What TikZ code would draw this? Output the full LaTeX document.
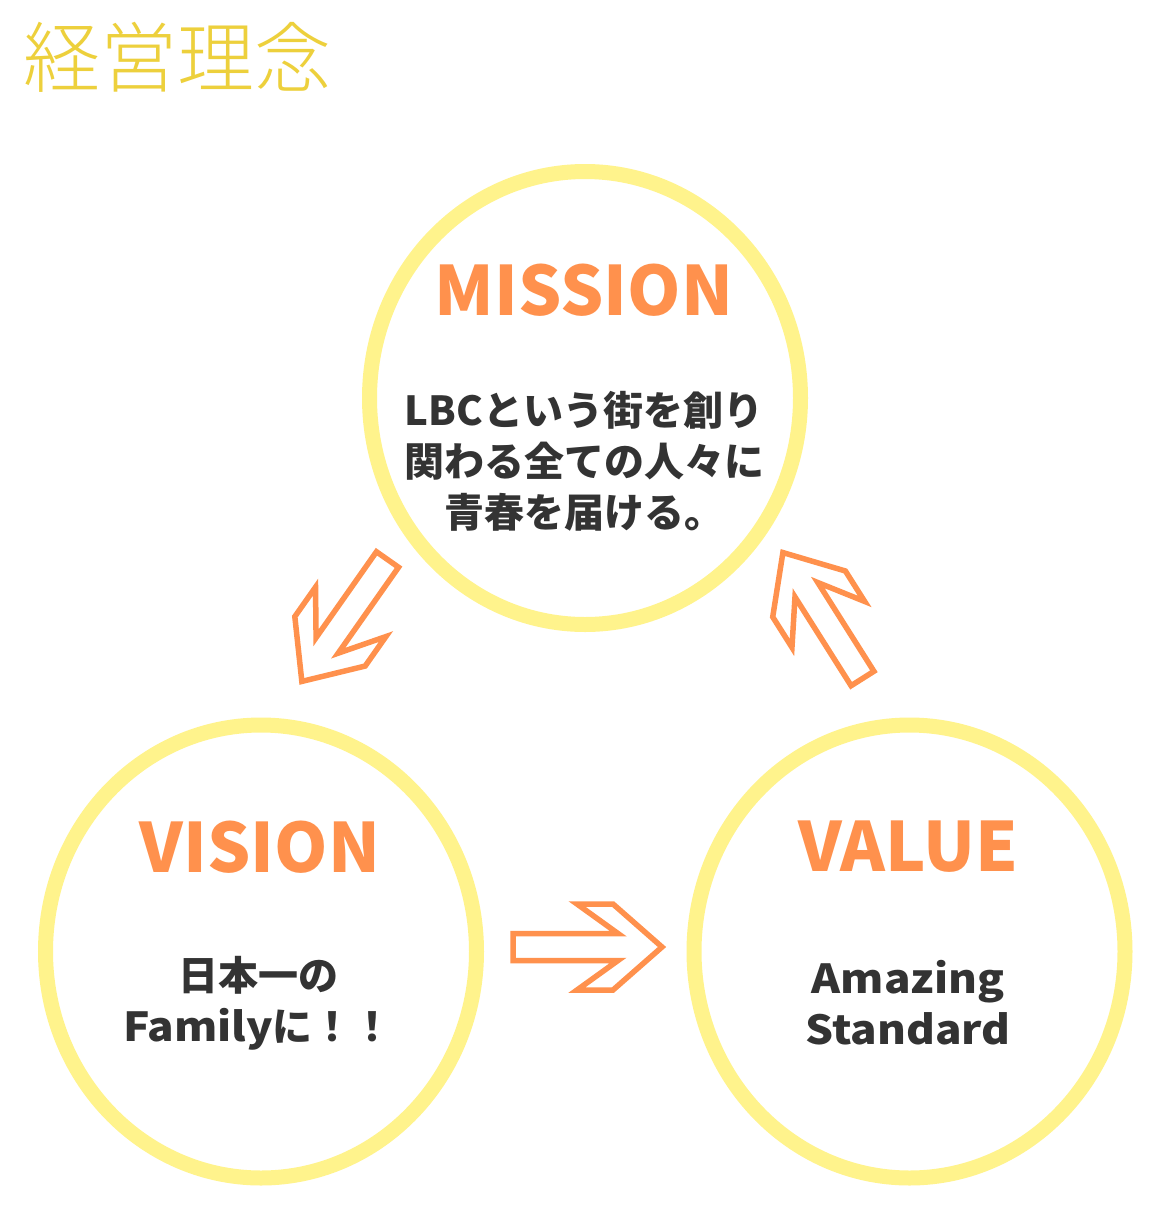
\documentclass[tikz,border=0pt]{standalone}
\usepackage{fontspec}
\setmainfont{Noto Sans CJK JP}
\newfontfamily\titlefont{Noto Sans CJK JP Light}
\newfontfamily\widefont[FakeStretch=1.1]{Noto Sans CJK JP}
\usepackage{tikz}
\usetikzlibrary{positioning,shapes.geometric}
\definecolor{ringColor}{HTML}{FFF38C}
\definecolor{headColor}{HTML}{FF914D}
\definecolor{titleColor}{HTML}{EDD03C}
\definecolor{textColor}{HTML}{333333}

\tikzset{
  bigarrow/.pic={
    \draw[arrowline] (0,-13.5) -- (105,-13.5) -- (64,-43) -- (100,-43) -- (149,0)
      -- (100,43) -- (64,43) -- (105,13.5) -- (0,13.5) -- cycle;
  }
}

\begin{document}
\begin{tikzpicture}[x=1pt,y=-1pt,
  ring/.style={ellipse,draw=ringColor,line width=15pt,fill=white,minimum width=431pt,minimum height=453pt,inner sep=0pt},
  head/.style={text=headColor,font=\fontsize{68}{72}\selectfont\bfseries},
  body/.style={text=textColor,align=center,font=\fontsize{40}{51}\selectfont\bfseries},
  arrowline/.style={draw=headColor,line width=5.5pt,fill=white,line join=miter}]
\useasboundingbox[fill=white] (0,0) rectangle (1170,1229);
\node[anchor=west,text=titleColor,font=\titlefont\fontsize{77}{80}\selectfont,inner sep=0pt] (title) at (23,57) {経営理念};
\node[ring] (mission) at (585,398) {};
\node[ring] (vision) at (261,951.5) {};
\node[ring] (value) at (909.5,951.5) {};
\node[head] (missionhead) at (584,290) {MISSION};
\node[body] (missionbody) at (584,461) {LBCという街を創り\\関わる全ての人々に\\青春を届ける。};
\node[head] (visionhead) at (260,847) {VISION};
\node[body] (visionbody) at (258,1003) {日本一の\\{\widefont Family}に！！};
\node[head] (valuehead) at (908,847) {VALUE};
\node[body] (valuebody) at (908,1003) {\widefont Amazing\\\widefont Standard};
\coordinate (tomission) at (862.5,678.5);
\coordinate (tovision) at (387.5,559.5);
\coordinate (tovalue) at (513,947);
\pic[rotate=122.3] at (tomission) {bigarrow};
\pic[rotate=234.9] at (tovision) {bigarrow};
\pic at (tovalue) {bigarrow};
\end{tikzpicture}
\end{document}
